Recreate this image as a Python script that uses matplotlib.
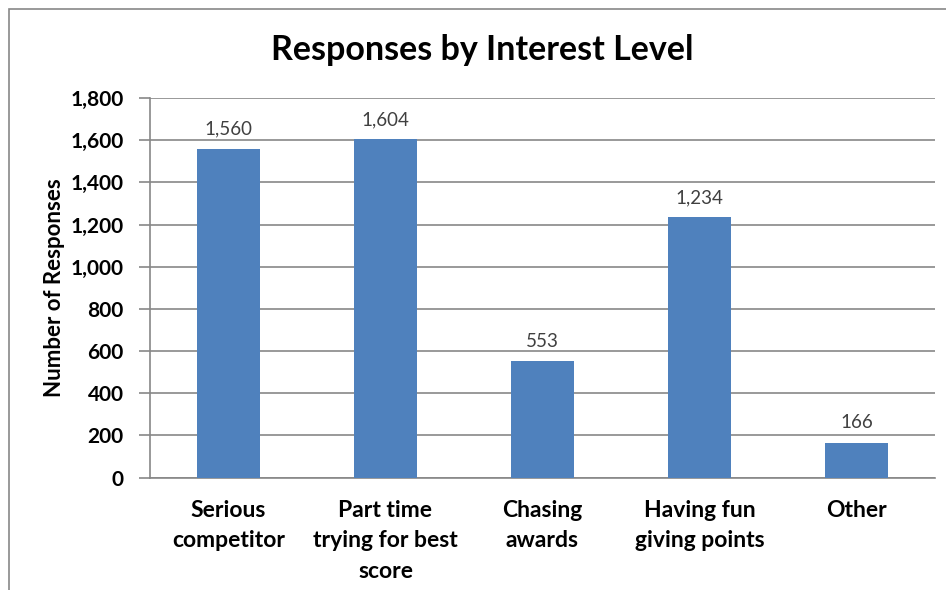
import matplotlib
matplotlib.use("Agg")
import matplotlib.pyplot as plt
from matplotlib.patches import Rectangle

categories = ["Serious\ncompetitor", "Part time\ntrying for best\nscore", "Chasing\nawards",
              "Having fun\ngiving points", "Other"]
values = [1560, 1604, 553, 1234, 166]
yticks = [0, 200, 400, 600, 800, 1000, 1200, 1400, 1600, 1800]

FONT = ["Lato", "DejaVu Sans"]
plt.rcParams["font.family"] = FONT

W, H = 946, 590
fig = plt.figure(figsize=(W / 100, H / 100), dpi=100)

# outer chart frame (left & top visible)
fig.add_artist(Rectangle((9 / W, -0.1), 1.2, 1 - 9 / H + 0.1, transform=fig.transFigure,
                         fill=False, edgecolor="#878787", linewidth=1.2))

left, right = 150, 935
top, bottom = 98, 477.6
ax = fig.add_axes([left / W, 1 - bottom / H, (right - left) / W, (bottom - top) / H])

x = list(range(len(categories)))
bars = ax.bar(x, values, width=0.40, color="#4F81BD", zorder=3)
ax.set_xlim(-0.5, len(categories) - 0.5)
ax.set_ylim(0, 1800)
ax.set_yticks(yticks)
ax.set_yticklabels([f"{v:,}" for v in yticks], fontsize=15, fontweight="bold")
ax.set_xticks(x)
ax.set_xticklabels(categories, fontsize=16.5, fontweight="bold", linespacing=1.55, va="top")
ax.tick_params(axis="x", length=0, pad=16)
ax.tick_params(axis="y", length=8, width=1.2, color="#878787", pad=11)

ax.grid(axis="y", color="#878787", linewidth=1.2, zorder=0)
for s in ["top", "right"]:
    ax.spines[s].set_visible(False)
for s in ["left", "bottom"]:
    ax.spines[s].set_color("#878787")
    ax.spines[s].set_linewidth(1.2)

for xi, v in zip(x, values):
    ax.annotate(f"{v:,}", (xi, v), xytext=(0, 8), textcoords="offset points",
                ha="center", va="bottom", fontsize=13.5, color="#404040")

ax.set_ylabel("Number of Responses", fontsize=16, fontweight="bold", labelpad=4)
fig.text(482 / W, 1 - 50 / H, "Responses by Interest Level", ha="center", va="center",
         fontsize=24.5, fontweight="bold")

fig.savefig("out.png", dpi=100)
